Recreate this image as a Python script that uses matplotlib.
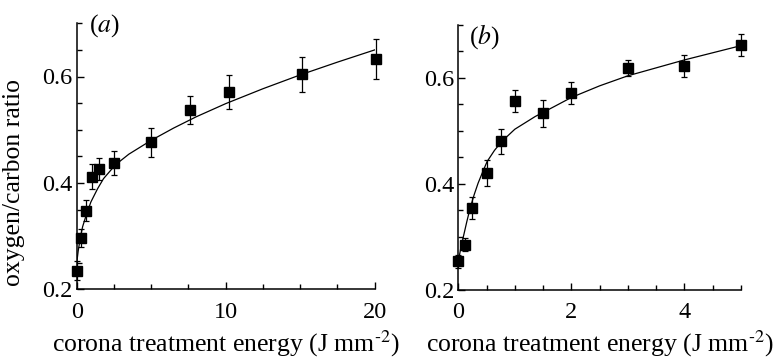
import numpy as np
import matplotlib
matplotlib.use("Agg")
import matplotlib.pyplot as plt
from matplotlib.ticker import MultipleLocator, FixedLocator

plt.rcParams['font.family'] = ['Liberation Serif', 'DejaVu Serif']
plt.rcParams['mathtext.fontset'] = 'stix'

# (a) 측정값: 에너지 0~20 J/mm^2
a_x = [0.0, 0.3, 0.6, 1.0, 1.5, 2.5, 5.0, 7.6, 10.2, 15.1, 20.1]
a_y = [0.235, 0.296, 0.348, 0.412, 0.426, 0.437, 0.476, 0.537, 0.571, 0.604, 0.633]
a_err = [0.018, 0.017, 0.020, 0.024, 0.021, 0.023, 0.027, 0.026, 0.032, 0.033, 0.038]
# (a) 피팅 곡선 (그림에서 읽은 점)
a_fit_x = [0.0, 0.1, 0.25, 0.4, 0.6, 0.95, 1.4, 1.8, 2.6, 3.5, 5.0, 6.5, 8.0, 10.0, 12.5, 15.0,
           17.5, 20.0]
a_fit_y = [0.249, 0.272, 0.298, 0.318, 0.336, 0.364, 0.389, 0.408, 0.434, 0.454, 0.480, 0.503,
           0.524, 0.549, 0.577, 0.603, 0.627, 0.650]

# (b) 측정값: 에너지 0~5 J/mm^2
b_x = [0.0, 0.125, 0.25, 0.5, 0.75, 1.0, 1.5, 2.0, 3.0, 4.0, 5.0]
b_y = [0.253, 0.285, 0.354, 0.420, 0.480, 0.557, 0.533, 0.572, 0.618, 0.623, 0.662]
b_err = [0.013, 0.012, 0.020, 0.024, 0.024, 0.021, 0.026, 0.021, 0.015, 0.021, 0.021]
# (b) 피팅 곡선
b_fit_x = [0.0, 0.04, 0.09, 0.15, 0.21, 0.28, 0.35, 0.43, 0.51, 0.64, 0.77, 1.0, 1.36, 1.7, 2.0,
           2.5, 3.0, 4.0, 5.0]
b_fit_y = [0.253, 0.276, 0.300, 0.328, 0.354, 0.379, 0.401, 0.422, 0.442, 0.463, 0.480, 0.503,
           0.527, 0.546, 0.563, 0.585, 0.604, 0.634, 0.661]

FS_TICK = 17.5
FS_LAB = 18.5

fig = plt.figure(figsize=(7.74, 3.58), dpi=100)
ax_a = fig.add_axes([76.7 / 774, 1 - 289.3 / 358, 298 / 774, 266 / 358])
ax_b = fig.add_axes([458.3 / 774, 1 - 289.5 / 358, 282.7 / 774, 264.5 / 358])


def style(ax, xmax, xmajor, xminor, tag, tag_xy):
    ax.set_xlim(0, xmax)
    ax.set_ylim(0.2, 0.7)
    for s in ['top', 'right']:
        ax.spines[s].set_visible(False)
    for s in ['left', 'bottom']:
        ax.spines[s].set_linewidth(1.1)
    ax.xaxis.set_major_locator(MultipleLocator(xmajor))
    ax.xaxis.set_minor_locator(MultipleLocator(xminor))
    ax.yaxis.set_major_locator(FixedLocator([0.2, 0.4, 0.6]))
    ax.yaxis.set_minor_locator(MultipleLocator(0.05))
    ax.set_yticklabels(['0.2', '0.4', '0.6'])
    ax.tick_params(which='major', direction='in', length=5, width=1, labelsize=FS_TICK)
    ax.tick_params(which='minor', direction='in', length=3.5, width=1)
    ax.tick_params(axis='x', which='major', pad=9)
    ax.tick_params(axis='y', which='major', pad=3)
    ax.set_xlabel(r'corona treatment energy (J mm$^{\text{-2}}$)', fontsize=FS_LAB, labelpad=4)
    ax.text(tag_xy[0], tag_xy[1], r'($\mathit{%s}$)' % tag, transform=ax.transAxes,
            fontsize=FS_LAB, va='center', ha='left')


def draw(ax, x, y, err, fx, fy):
    ax.plot(fx, fy, color='black', lw=0.9, zorder=2)
    ax.errorbar(x, y, yerr=err, fmt='s', color='black', ms=6.5, elinewidth=0.9,
                capsize=2.5, capthick=0.9, zorder=3, clip_on=False)


draw(ax_a, a_x, a_y, a_err, a_fit_x, a_fit_y)
draw(ax_b, b_x, b_y, b_err, b_fit_x, b_fit_y)
style(ax_a, 20, 10, 2.5, 'a', (0.04, 0.99))
style(ax_b, 5, 2, 0.5, 'b', (0.038, 0.958))
ax_a.set_ylabel('oxygen/carbon ratio', fontsize=FS_LAB)
ax_a.yaxis.set_label_coords(-0.175, 0.40)

fig.savefig('out.png', dpi=100)
